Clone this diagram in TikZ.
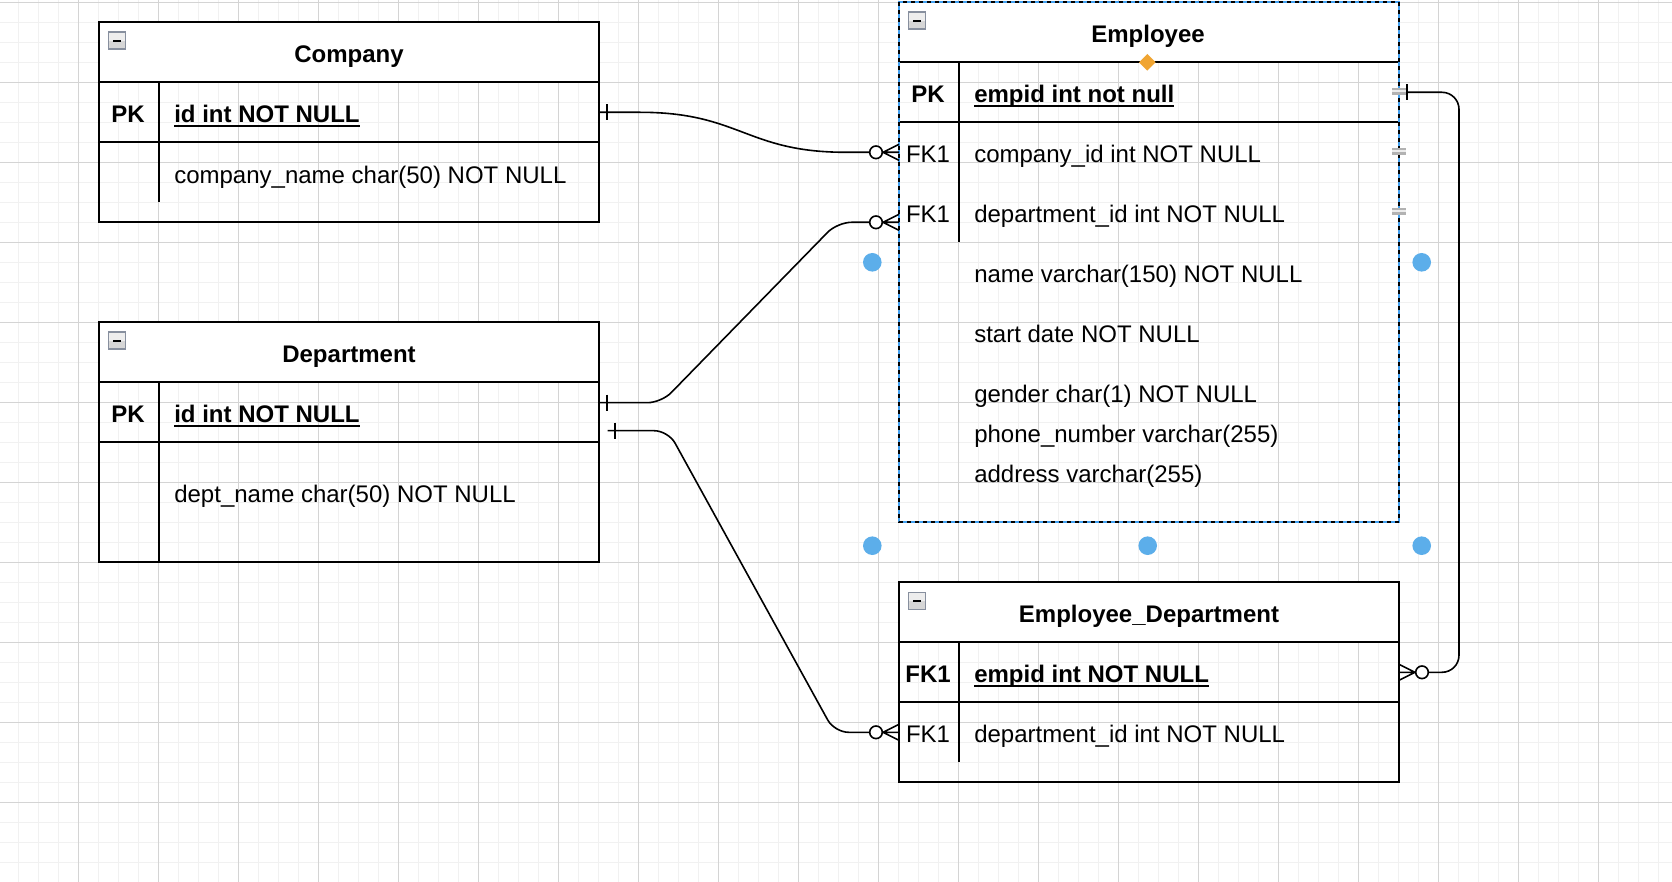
\documentclass[tikz,border=0pt]{standalone}
\usepackage{fontspec}
\setmainfont{Liberation Sans}
\usetikzlibrary{fit,calc}
\definecolor{gridminor}{RGB}{241,241,241}
\definecolor{gridmajor}{RGB}{212,212,212}
\definecolor{selblue}{RGB}{66,160,240}
\definecolor{handleblue}{RGB}{92,174,234}
\definecolor{diamondorange}{RGB}{240,165,50}
\definecolor{iconborder}{RGB}{135,143,158}
\newsavebox{\myulbox}
\newcommand{\myul}[1]{\sbox{\myulbox}{\bfseries #1}\rlap{\rule[-2.05pt]{\wd\myulbox}{0.8pt}}\usebox{\myulbox}}
\begin{document}
\begin{tikzpicture}[x=0.5pt,y=-0.5pt,
  every node/.style={font=\fontsize{12}{14}\selectfont, inner sep=0pt, outer sep=0pt},
  minorline/.style={gridminor, line width=0.75pt},
  majorline/.style={gridmajor, line width=0.6pt},
  tablebox/.style={draw, line width=0.95pt, inner sep=0pt, outer sep=0pt},
  rowbox/.style={inner sep=0pt, outer sep=0pt},
  tline/.style={line width=0.95pt, black},
  conn/.style={line width=0.8pt, black},
  ttl/.style={anchor=base, font=\fontsize{12}{14}\selectfont\bfseries},
  keyb/.style={anchor=base, font=\fontsize{12}{14}\selectfont\bfseries},
  keyr/.style={anchor=base},
  fld/.style={anchor=base west},
  collapse/.pic={
    \fill[black!7, draw=iconborder, line width=0.8pt] (0,0) rectangle (17,17);
    \fill[black!16] (0.8,9) rectangle (16.2,16.2);
    \fill[black] (4.5,7.6) rectangle (12.5,9.6);
  },
  onemark/.pic={\draw[conn] (0,-8) -- (0,8);},
  zeromany/.pic={
    \draw[conn] (0,-8) -- (-16,0) -- (0,8) (-16,0) -- (0,0);
    \draw[conn, fill=white] (-23,0) circle (6.3);
  },
  rowhandle/.pic={
    \fill[gray!60] (-7,-3.5) rectangle (7,3.5);
    \fill[gray!15] (-7,-1) rectangle (7,1);
  }
]
\useasboundingbox (0,0) rectangle (1672,882);
\fill[white] (0,0) rectangle (1672,882);
% grid
\foreach \i in {0,...,84} { \draw[minorline] ({-1.3+20*\i},0) -- ({-1.3+20*\i},882); }
\foreach \j in {0,...,44} { \draw[minorline] (0,{2.3+20*\j}) -- (1672,{2.3+20*\j}); }
\foreach \i in {0,...,21} { \draw[majorline] ({-1.3+80*\i},0) -- ({-1.3+80*\i},882); }
\foreach \j in {0,...,11} { \draw[majorline] (0,{2.3+80*\j}) -- (1672,{2.3+80*\j}); }

% ---------- Company ----------
\fill[white] (99,22.3) rectangle (599,82.3);
\node[tablebox, fit={(99,22.3)(599,222.3)}] (company) {};
\node[rowbox, fit={(99,82.3)(599,142.3)}] (compPK) {};
\node[rowbox, fit={(99,142.3)(599,202.3)}] (compName) {};
\draw[tline] (compPK.north west) -- (compPK.north east);
\draw[tline] (compPK.south west) -- (compPK.south east);
\draw[tline] (159,82.3) -- (159,202.3);
\pic at (108.3,32.3) {collapse};

% ---------- Department ----------
\fill[white] (99,322.3) rectangle (599,382.3);
\node[tablebox, fit={(99,322.3)(599,562.3)}] (department) {};
\node[rowbox, fit={(99,382.3)(599,442.3)}] (deptPK) {};
\node[rowbox, fit={(99,442.3)(599,562.3)}] (deptName) {};
\draw[tline] (deptPK.north west) -- (deptPK.north east);
\draw[tline] (deptPK.south west) -- (deptPK.south east);
\draw[tline] (159,382.3) -- (159,562.3);
\pic at (108.3,332.3) {collapse};

% ---------- Employee (selected) ----------
\fill[white] (899,2.3) rectangle (1399,62.3);
\node[rowbox, fit={(899,2.3)(1399,522.3)}] (employee) {};
\node[rowbox, fit={(899,62.3)(1399,122.3)}] (empPK) {};
\node[rowbox, fit={(899,122.3)(1399,182.3)}] (empFKc) {};
\node[rowbox, fit={(899,182.3)(1399,242.3)}] (empFKd) {};
\draw[tline] (empPK.north west) -- (empPK.north east);
\draw[tline] (empPK.south west) -- (empPK.south east);
\draw[tline] (959,62.3) -- (959,242.3);
\draw[selblue, line width=0.95pt] (employee.north west) rectangle (employee.south east);
\draw[black, line width=0.95pt, dash pattern=on 2pt off 2pt] (employee.north west) rectangle (employee.south east);
\pic at (908.3,12.3) {collapse};

% ---------- Employee_Department ----------
\fill[white] (899,582.3) rectangle (1399,642.3);
\node[tablebox, fit={(899,582.3)(1399,782.3)}] (empdept) {};
\node[rowbox, fit={(899,642.3)(1399,702.3)}] (edEmp) {};
\node[rowbox, fit={(899,702.3)(1399,762.3)}] (edDept) {};
\draw[tline] (edEmp.north west) -- (edEmp.north east);
\draw[tline] (edEmp.south west) -- (edEmp.south east);
\draw[tline] (959,642.3) -- (959,762.3);
\pic at (908.3,592.3) {collapse};

% ---------- connectors ----------
% Company.id -> Employee.company_id
\draw[conn] (compPK.east) -- ($(compPK.east)+(41,0)$)
  .. controls +(100,0) and +(-100,0) .. ($(empFKc.west)+(-53,0)$)
  -- ($(empFKc.west)+(-16,0)$);
\pic at ($(compPK.east)+(7.7,0)$) {onemark};
\pic at (empFKc.west) {zeromany};

% Department.id -> Employee.department_id
\draw[conn, rounded corners=7pt] ($(deptPK.east)+(0,-9.6)$) -- ($(deptPK.east)+(62.4,-9.6)$)
  -- ($(empFKd.west)+(-61.6,10)$) -- ($(empFKd.west)+(-16,10)$);
\pic at ($(deptPK.east)+(7.7,-9.6)$) {onemark};
\pic at ($(empFKd.west)+(0,10)$) {zeromany};

% Department.id -> Employee_Department.department_id
\draw[conn, rounded corners=7pt] ($(deptPK.east)+(8.7,18.4)$) -- ($(deptPK.east)+(69.2,18.4)$)
  -- ($(edDept.west)+(-64.5,0)$) -- ($(edDept.west)+(-16,0)$);
\pic at ($(deptPK.east)+(16,18.4)$) {onemark};
\pic at (edDept.west) {zeromany};

% Employee.empid -> Employee_Department.empid
\draw[conn, rounded corners=8.5pt] (empPK.east) -- ($(empPK.east)+(60,0)$) |- ($(edEmp.east)+(16,0)$);
\pic at ($(empPK.east)+(7.7,0)$) {onemark};
\pic[xscale=-1] at (edEmp.east) {zeromany};

% selection handles
\pic at (1399,91.3) {rowhandle};
\pic at (1399,151.3) {rowhandle};
\pic at (1399,211.3) {rowhandle};
\fill[handleblue] (872.3,262.3) circle (9.3);
\fill[handleblue] (1421.7,262.3) circle (9.3);
\fill[handleblue] (872.3,545.7) circle (9.3);
\fill[handleblue] (1147.7,545.7) circle (9.3);
\fill[handleblue] (1421.7,545.7) circle (9.3);
\fill[diamondorange] (1147.3,54) -- (1155.6,62.3) -- (1147.3,70.6) -- (1139,62.3) -- cycle;

% ---------- texts ----------
\node[ttl] (tCompany) at (349,62.7) {Company};
\node[keyb] (kCompPK) at (128,122.7) {PK};
\node[fld] (fCompId) at (174.3,122.7) {\myul{id int NOT NULL}};
\node[fld] (fCompName) at (174.3,183.3) {company\_name char(50) NOT NULL};

\node[ttl] (tDept) at (349,362.7) {Department};
\node[keyb] (kDeptPK) at (128,422.7) {PK};
\node[fld] (fDeptId) at (174.3,422.7) {\myul{id int NOT NULL}};
\node[fld] (fDeptName) at (174.3,502.7) {dept\_name char(50) NOT NULL};

\node[ttl] (tEmp) at (1148,42.7) {Employee};
\node[keyb] (kEmpPK) at (928,102.7) {PK};
\node[fld] (fEmpId) at (974.3,102.7) {\myul{empid int not null}};
\node[keyr] (kEmpFK1) at (928,162.7) {FK1};
\node[fld] (fEmpComp) at (974.3,162.7) {company\_id int NOT NULL};
\node[keyr] (kEmpFK2) at (928,222.7) {FK1};
\node[fld] (fEmpDept) at (974.3,222.7) {department\_id int NOT NULL};
\node[fld] (fEmpName) at (974.3,282.7) {name varchar(150) NOT NULL};
\node[fld] (fEmpStart) at (974.3,342.7) {start date NOT NULL};
\node[fld] (fEmpGender) at (974.3,402.7) {gender char(1) NOT NULL};
\node[fld] (fEmpPhone) at (974.3,442.7) {phone\_number varchar(255)};
\node[fld] (fEmpAddr) at (974.3,482.7) {address varchar(255)};

\node[ttl] (tED) at (1149,622.7) {Employee\_Department};
\node[keyb] (kEDFK1) at (928,682.7) {FK1};
\node[fld] (fEDEmp) at (974.3,682.7) {\myul{empid int NOT NULL}};
\node[keyr] (kEDFK2) at (928,742.7) {FK1};
\node[fld] (fEDDept) at (974.3,742.7) {department\_id int NOT NULL};
\end{tikzpicture}
\end{document}
